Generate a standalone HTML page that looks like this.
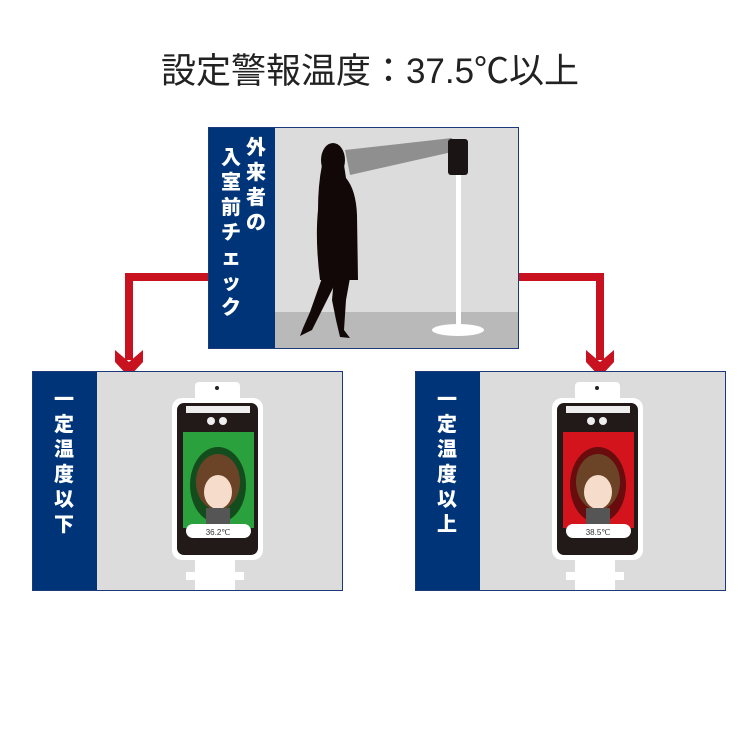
<!DOCTYPE html>
<html><head><meta charset="utf-8"><style>
body{margin:0;width:750px;height:750px;background:#fff;position:relative;overflow:hidden;font-family:"Liberation Sans","Noto Sans CJK JP",sans-serif}
.title{position:absolute;left:0;width:740px;top:43px;text-align:center;font-size:35px;color:#222;white-space:nowrap}
.vt{position:absolute;color:#fff;font-weight:900;font-size:20px;line-height:25px;text-align:center;width:24px}
</style></head><body>
<div class="title">設定警報温度：37.5℃以上</div>
<svg width="750" height="750" style="position:absolute;left:0;top:0">
<path d="M210 277 H129 V360" stroke="#c8121f" stroke-width="8" fill="none"/>
<path d="M115 350 L129 362 L143 350 L143 362 L129 377 L115 362Z" fill="#c8121f"/>
<path d="M518 277 H600 V360" stroke="#c8121f" stroke-width="8" fill="none"/>
<path d="M586 350 L600 362 L614 350 L614 362 L600 377 L586 362Z" fill="#c8121f"/>
<rect x="208.5" y="127.5" width="310" height="221" fill="#dcdcdc" stroke="#1c3a7a"/>
<rect x="209" y="128" width="66" height="220" fill="#003479"/>
<rect x="275" y="312" width="243" height="36" fill="#b9b9b9"/>
<path d="M345 150 L452 138 L452 152 L350 175Z" fill="#8f8f8f"/>
<rect x="448" y="139" width="20" height="36" rx="3" fill="#1a1414"/>
<rect x="456" y="175" width="5" height="152" fill="#fff"/>
<ellipse cx="458" cy="330" rx="26" ry="6" fill="#fff"/>
<g fill="#130808">
<ellipse cx="333" cy="160" rx="12" ry="17"/>
<path d="M322 165 L344 165 L346 178 Q356 190 357 215 L358 280 L320 280 Q315 240 318 210 Q318 185 322 165Z"/>
<path d="M322 278 L338 278 L318 318 L312 330 L300 336 L303 328 L310 312Z"/>
<path d="M334 278 L350 278 L346 300 L344 330 L350 338 L340 337 L336 320 L332 300Z"/>
</g>
<rect x="32.5" y="371.5" width="310" height="219" fill="#dcdcdc" stroke="#1c3a7a"/>
<rect x="33" y="372" width="64" height="218" fill="#003479"/>
<rect x="415.5" y="371.5" width="310" height="219" fill="#dcdcdc" stroke="#1c3a7a"/>
<rect x="416" y="372" width="64" height="218" fill="#003479"/>
<g>
<rect x="195" y="382" width="45" height="22" rx="4" fill="#fff"/>
<circle cx="217" cy="388" r="2" fill="#222"/>
<rect x="195" y="558" width="40" height="32" fill="#fff"/>
<rect x="186" y="572" width="58" height="8" fill="#fff"/>
<rect x="172" y="398" width="91" height="162" rx="10" fill="#fff"/>
<rect x="177" y="403" width="81" height="152" rx="7" fill="#221a18"/>
<rect x="186" y="406" width="64" height="7" fill="#eee"/>
<circle cx="211" cy="421" r="4" fill="#eee"/><circle cx="223" cy="421" r="4" fill="#eee"/>
<rect x="183" y="432" width="71" height="96" fill="#2aa13d"/>
<ellipse cx="218" cy="485" rx="28" ry="38" fill="#0c2a10" opacity=".7"/>
<ellipse cx="218" cy="482" rx="22" ry="28" fill="#6b4428"/>
<ellipse cx="218" cy="492" rx="14" ry="17" fill="#f6dccb"/>
<rect x="206" y="508" width="24" height="16" fill="#555"/>
<rect x="186" y="524" width="65" height="14" rx="7" fill="#fff"/>
<text x="218" y="535" font-size="8" text-anchor="middle" fill="#333" font-family="Liberation Sans">36.2℃</text>
</g>
<g transform="translate(380,0)">
<rect x="195" y="382" width="45" height="22" rx="4" fill="#fff"/>
<circle cx="217" cy="388" r="2" fill="#222"/>
<rect x="195" y="558" width="40" height="32" fill="#fff"/>
<rect x="186" y="572" width="58" height="8" fill="#fff"/>
<rect x="172" y="398" width="91" height="162" rx="10" fill="#fff"/>
<rect x="177" y="403" width="81" height="152" rx="7" fill="#221a18"/>
<rect x="186" y="406" width="64" height="7" fill="#eee"/>
<circle cx="211" cy="421" r="4" fill="#eee"/><circle cx="223" cy="421" r="4" fill="#eee"/>
<rect x="183" y="432" width="71" height="96" fill="#d4141c"/>
<ellipse cx="218" cy="485" rx="28" ry="38" fill="#3a0808" opacity=".7"/>
<ellipse cx="218" cy="482" rx="22" ry="28" fill="#6b4428"/>
<ellipse cx="218" cy="492" rx="14" ry="17" fill="#f6dccb"/>
<rect x="206" y="508" width="24" height="16" fill="#555"/>
<rect x="186" y="524" width="65" height="14" rx="7" fill="#fff"/>
<text x="218" y="535" font-size="8" text-anchor="middle" fill="#333" font-family="Liberation Sans">38.5℃</text>
</g>
</svg>
<div class="vt" style="left:244px;top:136px">外<br>来<br>者<br>の</div>
<div class="vt" style="left:219px;top:146px">入<br>室<br>前<br>チ<br>ェ<br>ッ<br>ク</div>
<div class="vt" style="left:52px;top:388px">一<br>定<br>温<br>度<br>以<br>下</div>
<div class="vt" style="left:435px;top:388px">一<br>定<br>温<br>度<br>以<br>上</div>
</body></html>
